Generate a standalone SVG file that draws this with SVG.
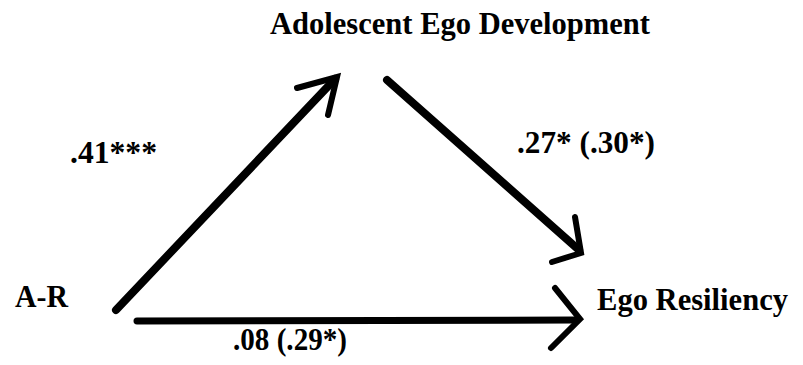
<svg xmlns="http://www.w3.org/2000/svg" width="803" height="365" viewBox="0 0 803 365">
<style>
.lbl{font-family:"Liberation Serif","Times New Roman",serif;font-weight:bold;font-size:30.5px;fill:#000}
.ln{fill:none;stroke:#000;stroke-width:8;stroke-linecap:round;stroke-linejoin:round}
.hd{fill:none;stroke:#000;stroke-width:6;stroke-linecap:round;stroke-linejoin:miter}
</style>
<rect width="803" height="365" fill="#fff"/>
<g id="node-ego-development"><text class="lbl" x="270" y="34" textLength="380" lengthAdjust="spacingAndGlyphs">Adolescent Ego Development</text></g>
<g id="node-ar"><text class="lbl" x="15" y="307" textLength="53" lengthAdjust="spacingAndGlyphs">A-R</text></g>
<g id="node-ego-resiliency"><text class="lbl" x="597" y="310" textLength="191" lengthAdjust="spacingAndGlyphs">Ego Resiliency</text></g>
<g id="connectors">
<path class="ln" d="M116,310 L335,79"/>
<path class="hd" d="M297,88 L337,77 L328,115"/>
<path class="ln" d="M387,80 L579,250"/>
<path class="hd" d="M575,217 L581,253 L552,262"/>
<path class="ln" d="M137,321 L575,320" style="stroke-width:7"/>
<path class="hd" d="M555,288 L580,319 L551,348"/>
<text class="lbl" x="70" y="163" textLength="87" lengthAdjust="spacingAndGlyphs">.41***</text>
<text class="lbl" x="517" y="153" textLength="138" lengthAdjust="spacingAndGlyphs">.27* (.30*)</text>
<text class="lbl" x="233" y="350" textLength="114" lengthAdjust="spacingAndGlyphs">.08 (.29*)</text>
</g>
</svg>
